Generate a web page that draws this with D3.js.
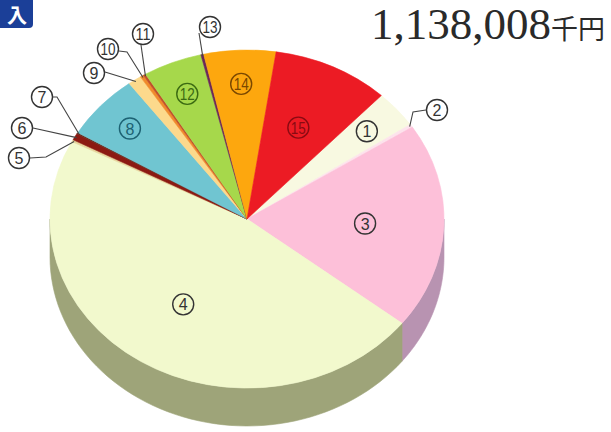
<!DOCTYPE html>
<html>
<head>
<meta charset="utf-8">
<script src="https://cdn.jsdelivr.net/npm/d3@7"></script>
<style>
  body { margin: 0; background: #fff; }
  svg { display: block; }
</style>
</head>
<body>
<svg id="chart" width="611" height="432"></svg>
<script>
// slice numbers (drawn circled) and estimated amounts in 千円
const labels = ["1","2","3","4","5","6","7","8","9","10","11","12","13","14","15"];
const values = [41100, 3200, 224400, 534300, 2200, 7300, 1600, 71100, 12600, 3200, 2200, 55300, 2500, 67000, 109000];
const total = 1138008;
const totalText = "1,138,008";
const unitText = "千円";
const headText = "入";

const colors = ["#f8f9e1","#fde3ec","#fdc0d9","#f2f9cd","#e6d49a","#8c1a12","#6a2b1c",
                "#70c5d1","#fcd98c","#f08a2c","#c0502a","#a6d84b","#6b2757","#fda70e","#ec1b24"];
const sideColors = {"3": "#b893b1", "4": "#9ea479"};
const labelInk = {"8": "#1d6273", "12": "#3b6a12", "14": "#7a4800", "15": "#8a0a12"};

// geometry
const cx = 247, cy = 219, rx = 197, ry = 169, depth = 38;
const start = 43 * Math.PI / 180;

const svg = d3.select("#chart");

const data = labels.map((l, i) => ({label: l, value: values[i], color: colors[i]}));
const pie = d3.pie().sort(null).value(d => d.value)
  .startAngle(start).endAngle(start + 2 * Math.PI);
const arcs = pie(data);

const rim = (a, r = 1, dy = 0) => [cx + rx * r * Math.sin(a), cy - ry * r * Math.cos(a) + dy];

// side of the cylinder (front half only)
const sideG = svg.append("g");
arcs.forEach(d => {
  [[Math.PI / 2, 1.5 * Math.PI], [2.5 * Math.PI, 3.5 * Math.PI]].forEach(([lo, hi]) => {
    const a0 = Math.max(d.startAngle, lo), a1 = Math.min(d.endAngle, hi);
    if (a1 <= a0) return;
    const n = 60;
    const top = d3.range(n + 1).map(k => rim(a0 + (a1 - a0) * k / n));
    const bot = top.map(p => [p[0], p[1] + depth]).reverse();
    const c = sideColors[d.data.label] || d3.color(d.data.color).darker(0.8).formatHex();
    sideG.append("path")
      .attr("d", d3.line()(top.concat(bot)) + "Z")
      .attr("fill", c)
      .attr("stroke", c)
      .attr("stroke-width", 0.6);
  });
});

// top face
const arc = d3.arc().innerRadius(0).outerRadius(1);
svg.append("g")
  .attr("transform", `translate(${cx},${cy}) scale(${rx},${ry})`)
  .selectAll("path")
  .data(arcs)
  .join("path")
  .attr("d", arc)
  .attr("fill", d => d.data.color)
  .attr("stroke", d => d.data.color)
  .attr("stroke-width", 0.6)
  .attr("vector-effect", "non-scaling-stroke");

// circled number badge
function badge(g, x, y, label) {
  const ink = labelInk[label] || "#333";
  g.append("circle")
    .attr("cx", x).attr("cy", y).attr("r", 10.5)
    .attr("fill", "none")
    .attr("stroke", ink)
    .attr("stroke-width", 1.4);
  const t = g.append("text")
    .attr("x", x).attr("y", y + 0.5)
    .attr("text-anchor", "middle")
    .attr("dominant-baseline", "central")
    .attr("font-family", "'Liberation Sans', Arial, sans-serif")
    .attr("font-size", 16)
    .attr("fill", ink)
    .text(label);
  if (label.length > 1) t.attr("textLength", 15).attr("lengthAdjust", "spacingAndGlyphs");
}

// inside labels
const inside = ["1","3","4","8","12","14","15"];
const mid = d => (d.startAngle + d.endAngle) / 2;
const inG = svg.append("g");
arcs.filter(d => inside.includes(d.data.label)).forEach(d => {
  const p = rim(mid(d), d.value / total > 0.08 ? 0.6 : 0.8);
  badge(inG, p[0], p[1], d.data.label);
});

// outside labels with leader lines (label spot + bend points)
const outside = {
  "2": {at: [437, 110], bend: [[413, 112], [426, 110]]},
  "5": {at: [19, 158], bend: [[46, 157], [30, 158]]},
  "6": {at: [22, 128], bend: [[33, 128]]},
  "7": {at: [42, 97], bend: [[57, 97], [53, 97]]},
  "9": {at: [94, 73], bend: [[105, 72]]},
  "10": {at: [108, 49], bend: [[127, 52], [119, 51]]},
  "11": {at: [143, 34], bend: [[141, 45]]},
  "13": {at: [210, 27], bend: [[199, 33]]}
};
const outG = svg.append("g");
arcs.filter(d => outside[d.data.label]).forEach(d => {
  const o = outside[d.data.label];
  const p0 = rim(mid(d), 0.99);
  outG.append("path")
    .attr("d", d3.line()([p0].concat(o.bend)))
    .attr("fill", "none")
    .attr("stroke", "#444")
    .attr("stroke-width", 1.1);
  badge(outG, o.at[0], o.at[1], d.data.label);
});

// heading tab
svg.append("path")
  .attr("d", "M0,0H33V24Q33,28 29,28H0Z")
  .attr("fill", "#1b3f98");
svg.append("text")
  .attr("x", 27).attr("y", 14)
  .attr("text-anchor", "end")
  .attr("dominant-baseline", "central")
  .attr("font-family", "'Noto Sans CJK JP', sans-serif")
  .attr("font-weight", "bold")
  .attr("font-size", 20)
  .attr("fill", "#fff")
  .text(headText);

// total
const tot = svg.append("text")
  .attr("x", 605).attr("y", 39)
  .attr("text-anchor", "end")
  .attr("fill", "#2a2a2a");
tot.append("tspan")
  .attr("font-family", "'Liberation Serif', 'DejaVu Serif', serif")
  .attr("font-size", 45)
  .text(totalText);
tot.append("tspan")
  .attr("font-family", "'Noto Sans CJK JP', sans-serif")
  .attr("font-size", 27)
  .text(unitText);
</script>
</body>
</html>
